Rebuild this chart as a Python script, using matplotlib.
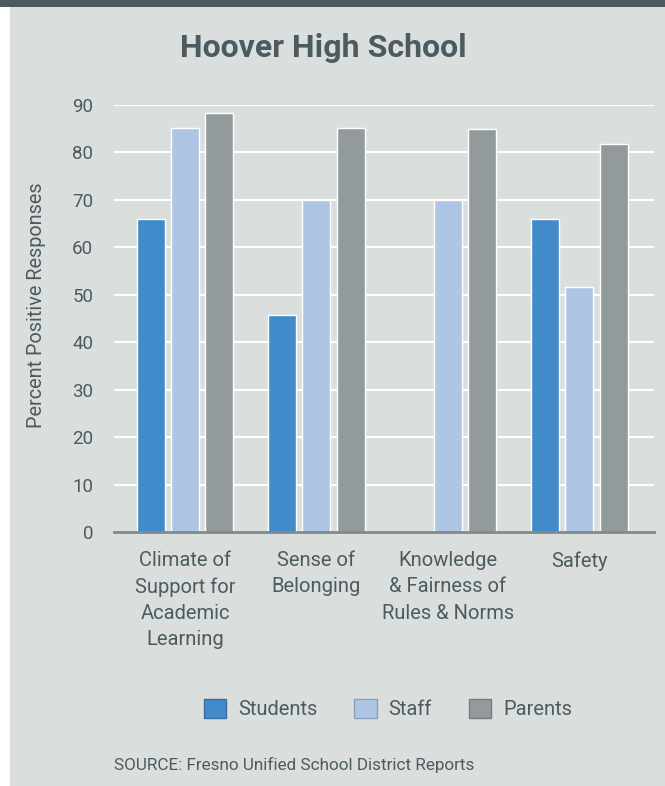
import matplotlib
matplotlib.use("Agg")
import matplotlib.pyplot as plt
from matplotlib.patches import Rectangle, Patch
import numpy as np

plt.rcParams['font.family'] = ['Roboto', 'DejaVu Sans']

categories = ["Climate of\nSupport for\nAcademic\nLearning", "Sense of\nBelonging",
              "Knowledge\n& Fairness of\nRules & Norms", "Safety"]
series_names = ["Students", "Staff", "Parents"]
students = [66, 45.7, 0, 66]
staff = [85.2, 70, 70, 51.6]
parents = [88.3, 85.2, 84.9, 81.7]
yticks = [0, 10, 20, 30, 40, 50, 60, 70, 80, 90]

colors = ["#428bca", "#aec5e6", "#929a9b"]
edge_colors = ["#366f9f", "#8c9fbb", "#757c7d"]
text_color = "#4b5b60"
bg = "#dadfde"

W, H = 665, 786
fig = plt.figure(figsize=(W / 100, H / 100), dpi=100)
fig.patch.set_facecolor(bg)
# white left strip and dark top band
fig.patches.append(Rectangle((0, 0), 10 / W, 1, transform=fig.transFigure,
                             facecolor="white", edgecolor="none", zorder=0))
fig.patches.append(Rectangle((0, 1 - 7 / H), 1, 7 / H, transform=fig.transFigure,
                             facecolor="#4a5a5f", edgecolor="none", zorder=1))

x0, x1 = 114, 654
y0, y1 = 532, 105
ax = fig.add_axes([x0 / W, 1 - y0 / H, (x1 - x0) / W, (y0 - y1) / H])
ax.set_facecolor(bg)

x = np.arange(len(categories))
step = 0.261
width = 0.213
for i, vals in enumerate([students, staff, parents]):
    ax.bar(x + (i - 1) * step, vals, width=width, color=colors[i],
           edgecolor="white", linewidth=1.0, zorder=3)

ax.set_xlim(-0.54, 3.567)
ax.set_ylim(0, 90)
ax.set_yticks(yticks)
ax.yaxis.grid(True, color="white", linewidth=1.5, zorder=0)
ax.set_axisbelow(True)
for s in ["top", "right", "left"]:
    ax.spines[s].set_visible(False)
ax.spines["bottom"].set_color("#7f8b89")
ax.spines["bottom"].set_linewidth(2)
ax.spines["bottom"].set_zorder(4)
ax.tick_params(axis="y", length=0, pad=15, labelsize=13.5, labelcolor=text_color)
ax.tick_params(axis="x", length=0, pad=14, labelsize=14.5, labelcolor=text_color)
ax.set_xticks(x)
ax.set_xticklabels(categories, linespacing=1.47)

fig.text(37 / W, 1 - 305 / H, "Percent Positive Responses", rotation=90,
         ha="center", va="center", fontsize=14.3, color=text_color)
fig.text(323 / W, 1 - 48 / H, "Hoover High School", ha="center", va="center",
         fontsize=23, fontweight="bold", color=text_color)

handles = [Patch(facecolor=colors[i], edgecolor=edge_colors[i], linewidth=1.0,
                 label=series_names[i]) for i in range(3)]
leg = fig.legend(handles=handles, loc="center", bbox_to_anchor=(388 / W, 1 - 709 / H),
                 ncol=3, frameon=False, fontsize=14.5, handlelength=1.1,
                 handleheight=1.1, handletextpad=0.6, columnspacing=1.85,
                 labelcolor=text_color)

fig.text(114 / W, 1 - 765 / H, "SOURCE: Fresno Unified School District Reports",
         ha="left", va="center", fontsize=12.3, color=text_color)

fig.savefig("out.png", dpi=100, facecolor=fig.get_facecolor())
